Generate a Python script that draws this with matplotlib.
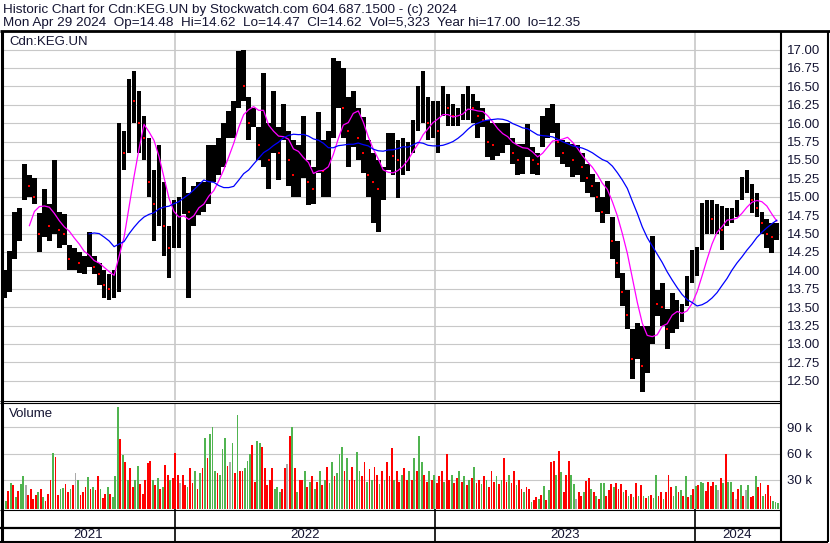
import numpy as np
import pandas as pd
import matplotlib
matplotlib.use('Agg')
import matplotlib.pyplot as plt
from matplotlib.lines import Line2D

# ---------------- data (weekly bins) ----------------
week_high = [14.00, 14.27, 14.80, 14.85, 15.45, 15.30, 15.25, 14.78, 15.10, 14.90,
             15.50, 14.80, 14.77, 14.35, 14.30, 14.25, 14.20, 14.52, 14.20, 14.10,
             14.00, 13.95, 14.00, 16.00, 15.90, 16.60, 16.71, 16.44, 16.10, 15.80,
             15.36, 15.70, 15.20, 14.60, 14.95, 15.00, 15.27, 15.05, 15.15, 15.20,
             15.20, 15.70, 15.70, 15.80, 16.00, 16.17, 16.30, 16.98, 17.00, 16.35,
             16.20, 15.95, 16.68, 16.00, 16.44, 15.95, 16.26, 15.90, 15.77, 15.70,
             16.10, 15.50, 15.40, 16.15, 15.77, 15.90, 16.89, 16.85, 16.75, 16.35,
             16.44, 16.20, 16.08, 15.77, 15.59, 15.50, 15.40, 15.86, 15.86, 15.77,
             15.80, 15.75, 16.04, 16.50, 16.71, 16.35, 16.30, 16.30, 16.50, 16.40,
             16.26, 16.20, 16.40, 16.51, 16.40, 16.30, 16.20, 16.04, 16.00, 16.00,
             16.00, 16.00, 15.80, 15.72, 15.72, 15.99, 15.68, 15.60, 16.10, 16.20,
             16.26, 16.00, 15.77, 15.75, 15.72, 15.70, 15.60, 15.45, 15.31, 15.20,
             15.00, 15.22, 14.73, 14.40, 13.96, 13.74, 13.20, 13.29, 13.24, 13.25,
             14.47, 13.74, 13.83, 13.47, 13.69, 13.60, 13.55, 13.92, 14.28, 14.32,
             14.91, 14.96, 14.96, 14.90, 14.87, 14.85, 14.85, 14.96, 15.27, 15.36,
             15.18, 15.05, 14.80, 14.70, 14.64, 14.64]
week_low = [13.63, 13.70, 14.15, 14.40, 14.95, 15.00, 14.90, 14.25, 14.45, 14.40,
            14.50, 14.30, 14.35, 14.00, 14.00, 13.97, 13.95, 14.05, 13.95, 13.80,
            13.63, 13.60, 13.63, 13.70, 15.36, 15.60, 16.00, 15.60, 15.50, 15.00,
            14.40, 14.60, 14.20, 13.90, 14.30, 14.30, 14.77, 13.63, 14.60, 14.75,
            14.80, 14.90, 15.20, 15.30, 15.40, 15.80, 15.80, 16.20, 16.30, 15.77,
            15.95, 15.50, 15.40, 15.10, 15.59, 15.23, 15.77, 15.14, 15.00, 15.00,
            15.25, 14.89, 14.90, 15.32, 15.00, 15.00, 15.80, 16.20, 15.80, 15.40,
            15.68, 15.50, 15.32, 15.00, 14.64, 14.52, 14.95, 15.36, 15.30, 14.99,
            15.30, 15.35, 15.60, 15.90, 16.00, 15.77, 15.80, 15.59, 16.10, 15.96,
            15.96, 15.96, 16.04, 16.04, 16.00, 15.80, 15.95, 15.54, 15.50, 15.55,
            15.60, 15.70, 15.45, 15.30, 15.31, 15.54, 15.31, 15.30, 15.68, 15.80,
            15.86, 15.54, 15.45, 15.40, 15.27, 15.30, 15.20, 15.05, 15.00, 14.80,
            14.64, 14.77, 14.15, 13.90, 13.51, 13.20, 12.52, 12.79, 12.35, 12.60,
            13.00, 13.38, 13.25, 12.93, 13.15, 13.20, 13.30, 13.52, 13.83, 13.92,
            14.28, 14.50, 14.50, 14.50, 14.28, 14.60, 14.65, 14.73, 14.96, 15.05,
            14.78, 14.73, 14.50, 14.30, 14.24, 14.41]
week_close = [13.85, 14.10, 14.65, 14.70, 15.20, 15.15, 15.00, 14.50, 14.70, 14.60,
              14.70, 14.55, 14.50, 14.15, 14.15, 14.10, 14.10, 14.25, 14.05, 13.95,
              13.80, 13.75, 13.80, 15.80, 15.60, 16.40, 16.30, 16.00, 15.80, 15.20,
              14.90, 15.10, 14.60, 14.30, 14.70, 14.75, 15.00, 14.80, 14.90, 14.95,
              15.00, 15.40, 15.45, 15.60, 15.80, 16.00, 16.10, 16.70, 16.50, 16.00,
              16.05, 15.70, 16.10, 15.50, 16.00, 15.60, 16.00, 15.50, 15.30, 15.30,
              15.50, 15.20, 15.10, 15.70, 15.35, 15.60, 16.50, 16.50, 16.20, 15.90,
              16.10, 15.80, 15.60, 15.30, 15.20, 15.10, 15.20, 15.60, 15.55, 15.50,
              15.55, 15.60, 15.90, 16.20, 16.30, 16.00, 16.05, 15.90, 16.25, 16.20,
              16.10, 16.10, 16.20, 16.30, 16.20, 16.10, 16.05, 15.75, 15.70, 15.75,
              15.80, 15.85, 15.60, 15.50, 15.50, 15.70, 15.50, 15.45, 15.90, 16.00,
              16.00, 15.75, 15.60, 15.60, 15.50, 15.50, 15.40, 15.25, 15.15, 15.00,
              14.80, 15.00, 14.40, 14.10, 13.70, 13.40, 12.80, 13.00, 12.70, 13.10,
              13.60, 13.55, 13.50, 13.20, 13.40, 13.40, 13.45, 13.75, 14.10, 14.15,
              14.70, 14.75, 14.70, 14.70, 14.55, 14.70, 14.75, 14.85, 15.10, 15.20,
              14.95, 14.85, 14.65, 14.50, 14.45, 14.62]

# volume in thousands, half-week bins; direction g=up, r=down, n=unchanged
vol_k = [18, 6, 17, 26,   24, 10, 17, 25,   35, 24, 13, 20,   8, 13, 16, 20,
         10, 6, 14, 30,   61, 56, 13, 20,   21, 25, 16, 20,   24, 38, 30, 13,
         16, 22, 33, 20,  22, 18, 35, 20,   9, 14, 22, 14,    10, 35, 113, 76,
         58, 50, 30, 44,  22, 30, 46, 25,   14, 30, 49, 51,   30, 24, 32, 20,
         22, 47, 36, 30,  32, 61, 36, 26,   36, 24, 22, 43,   26, 40, 20, 38,
         44, 78, 55, 82,  90, 40, 38, 36,   65, 78, 46, 50,   72, 38, 104, 40,
         40, 44, 51, 60,  70, 28, 74, 72,   67, 44, 24, 30,   44, 20, 22, 16,
         20, 44, 48, 80,  90, 44, 16, 30,   30, 40, 22, 28,   35, 20, 28, 40,
         24, 30, 45, 26,  50, 35, 38, 60,   68, 40, 55, 30,   45, 30, 62, 40,
         35, 50, 28, 42,  30, 45, 36, 25,   40, 30, 50, 34,   66, 30, 40, 28,
         36, 44, 30, 40,  30, 55, 40, 80,   50, 36, 28, 40,   30, 36, 26, 34,
         40, 28, 60, 30,  36, 26, 32, 40,   28, 35, 24, 30,   32, 45, 26, 30,
         25, 35, 30, 22,  40, 28, 34, 25,   30, 55, 28, 36,   26, 40, 24, 30,
         20, 16, 22, 20,  5, 7, 10, 8,      13, 23, 7, 19,    50, 52, 36, 63,
         39, 16, 36, 51,  36, 25, 8, 16,    12, 16, 29, 32,   20, 16, 12, 8,
         27, 26, 12, 19,  25, 22, 27, 20,   25, 16, 18, 12,   14, 10, 27, 12,
         24, 12, 9, 12,   13, 9, 36, 12,    16, 8, 16, 36,    22, 12, 23, 16,
         19, 12, 34, 10,  13, 20, 23, 24,   28, 26, 17, 28,   23, 28, 24, 18,
         32, 27, 60, 28,  28, 16, 8, 20,    24, 12, 19, 24,   10, 12, 34, 22,
         27, 12, 14, 24,  12, 6, 5, 4]
vol_dir = ("ngrg" "rgrg" "gnrr" "rrgr" "grrr" "grrg" "grrg" "rngr"
           "rrgr" "grrg" "rrgr" "gggr" "grgr" "rggr" "rrrr" "grgr"
           "grrg" "rrrn" "rrgr" "rgrg" "rgrg" "ggrg" "ggrn" "grgr"
           "rggg" "rrgg" "rrrr" "rggg" "rrnr" "grgr" "rgrg" "rgrg"
           "rgrg" "grgg" "grgr" "rrgg" "rrgr" "grrg" "rgrr" "rgrr"
           "grrg" "rgrg" "grrg" "rgrr" "rgrr" "grrg" "rgrg" "rgrr"
           "grgr" "rrgr" "grrg" "rrgr" "rgrr" "grrg" "rgrg" "rrgr"
           "grrr" "ggnr" "rgrr" "grgr" "ggrr" "rgrr" "rgrg" "rgrg"
           "rgrg" "rggr" "rgrr" "rggr" "grgr" "grgr" "ggrr" "rrgn"
           "rgrg" "grnr" "grng" "rrgr" "rgrr" "rggg")

year_labels = ["2021", "2022", "2023", "2024"]
price_ticks = [12.50, 12.75, 13.00, 13.25, 13.50, 13.75, 14.00, 14.25, 14.50,
               14.75, 15.00, 15.25, 15.50, 15.75, 16.00, 16.25, 16.50, 16.75, 17.00]
vol_ticks = [30, 60, 90]
header1 = "Historic Chart for Cdn:KEG.UN by Stockwatch.com 604.687.1500 - (c) 2024"
header2 = ("Mon Apr 29 2024  Op=14.48  Hi=14.62  Lo=14.47  Cl=14.62  "
           "Vol=5,323  Year hi=17.00  lo=12.35")

# ---------------- layout ----------------
W, H = 830, 543
plt.rcParams['font.family'] = ['Liberation Sans', 'DejaVu Sans']
fig = plt.figure(figsize=(W / 100, H / 100), dpi=100)
fig.patch.set_facecolor('white')

def rect(x0, y0, x1, y1):
    return [x0 / W, 1 - y1 / H, (x1 - x0) / W, (y1 - y0) / H]

def fline(xs, ys, lw=1.0, color='black'):
    fig.add_artist(Line2D([x / W for x in xs], [1 - y / H for y in ys],
                          transform=fig.transFigure, color=color, lw=lw,
                          solid_capstyle='butt'))

start = pd.Timestamp('2021-05-03')
end = pd.Timestamp('2024-04-30')
wk_x = start + pd.to_timedelta(np.arange(len(week_high)) * 7 + 3.5, unit='D')
vol_x = start + pd.to_timedelta(np.arange(len(vol_k)) * 3.5 + 1.75, unit='D')
year_bounds = [pd.Timestamp(f'{y}-01-01') for y in (2022, 2023, 2024)]

txtcol = '#141432'
grid = '#c8c8c8'
fs = 9.5

ax_p = fig.add_axes(rect(2, 32, 780, 400))
ax_v = fig.add_axes(rect(2, 403, 780, 509))
ax_s = fig.add_axes(rect(2, 509, 780, 527))
ax_y = fig.add_axes(rect(2, 528, 780, 541))
for a in (ax_p, ax_v, ax_s, ax_y):
    a.set_xlim(start, end)
    for s in a.spines.values():
        s.set_visible(False)
    a.set_xticks([])
    a.set_facecolor('none')

# ---- price panel ----
hi = np.array(week_high); lo = np.array(week_low); cl = np.array(week_close)
ax_p.set_ylim(12.239, 17.239)
for t in price_ticks:
    ax_p.axhline(t, color=grid, lw=0.8, zorder=0)
for b in year_bounds:
    ax_p.axvline(b, color=grid, lw=1.2, zorder=0)
ax_p.bar(wk_x, hi - lo, bottom=lo, width=6.6, color='black', zorder=2)
down = np.r_[False, cl[1:] < cl[:-1]]
ax_p.plot(wk_x[down], cl[down], 's', color='red', ms=1.6, mew=0, zorder=3)
ma_fast = pd.Series(cl).rolling(6).mean()
ma_slow = pd.Series(cl).rolling(18).mean()
ax_p.plot(wk_x, ma_fast, color='#ff00ff', lw=0.9, zorder=4)
ax_p.plot(wk_x, ma_slow, color='#0000ff', lw=0.9, zorder=4)
ax_p.yaxis.tick_right()
ax_p.set_yticks(price_ticks)
ax_p.set_yticklabels([f'{t:.2f}' for t in price_ticks])
ax_p.tick_params(axis='y', length=0, pad=5, labelsize=fs, labelcolor=txtcol)
ax_p.text(0.009, 0.972, "Cdn:KEG.UN", transform=ax_p.transAxes, fontsize=fs,
          color=txtcol, va='center', ha='left')

# ---- volume panel ----
vol_colors = {'g': '#50b450', 'r': '#ff0000', 'n': '#aaaaaa'}
vbot = -3.1
ax_v.set_ylim(vbot, 117.5)
for t in vol_ticks:
    ax_v.axhline(t, color=grid, lw=0.8, zorder=0)
for b in year_bounds:
    ax_v.axvline(b, color=grid, lw=1.2, zorder=0)
vk = np.array(vol_k, dtype=float)
ax_v.bar(vol_x, vk - vbot, bottom=vbot, width=2.5,
         color=[vol_colors[c] for c in vol_dir], zorder=2)
ax_v.yaxis.tick_right()
ax_v.set_yticks(vol_ticks)
ax_v.set_yticklabels([f'{t} k' for t in vol_ticks])
ax_v.tick_params(axis='y', length=0, pad=5, labelsize=fs, labelcolor=txtcol)
ax_v.text(0.009, 0.9, "Volume", transform=ax_v.transAxes, fontsize=fs,
          color=txtcol, va='center', ha='left')

# ---- bottom strip and year labels ----
for a in (ax_s, ax_y):
    a.set_yticks([])
    a.set_ylim(0, 1)
    for b in year_bounds:
        a.axvline(b, color='black', lw=1.2)
edges = [start] + year_bounds + [end]
for lab, a0, a1 in zip(year_labels, edges[:-1], edges[1:]):
    ax_y.text(a0 + (a1 - a0) / 2, 0.45, lab, ha='center', va='center',
              fontsize=fs, color=txtcol)

# ---- header ----
fig.text(3 / W, 1 - 9.5 / H, header1, fontsize=9.7, color=txtcol, va='center', ha='left')
fig.text(3 / W, 1 - 23 / H, header2, fontsize=9.7, color=txtcol, va='center', ha='left')

# ---- frame lines ----
fline([0, 830], [31, 31], lw=2.0)
fline([1.5, 1.5], [31, 542], lw=2.2)
fline([780.5, 780.5], [31, 542], lw=1.5)
fline([827.5, 827.5], [31, 542], lw=1.5)
fline([0, 828], [541.5, 541.5], lw=1.5)
fline([0, 780], [400.5, 400.5], lw=0.8)
fline([0, 780], [402.5, 402.5], lw=0.8)
fline([0, 780], [509.5, 509.5], lw=0.8)
fline([0, 780], [527.5, 527.5], lw=1.6)

fig.savefig('out.png', dpi=100, facecolor='white')
